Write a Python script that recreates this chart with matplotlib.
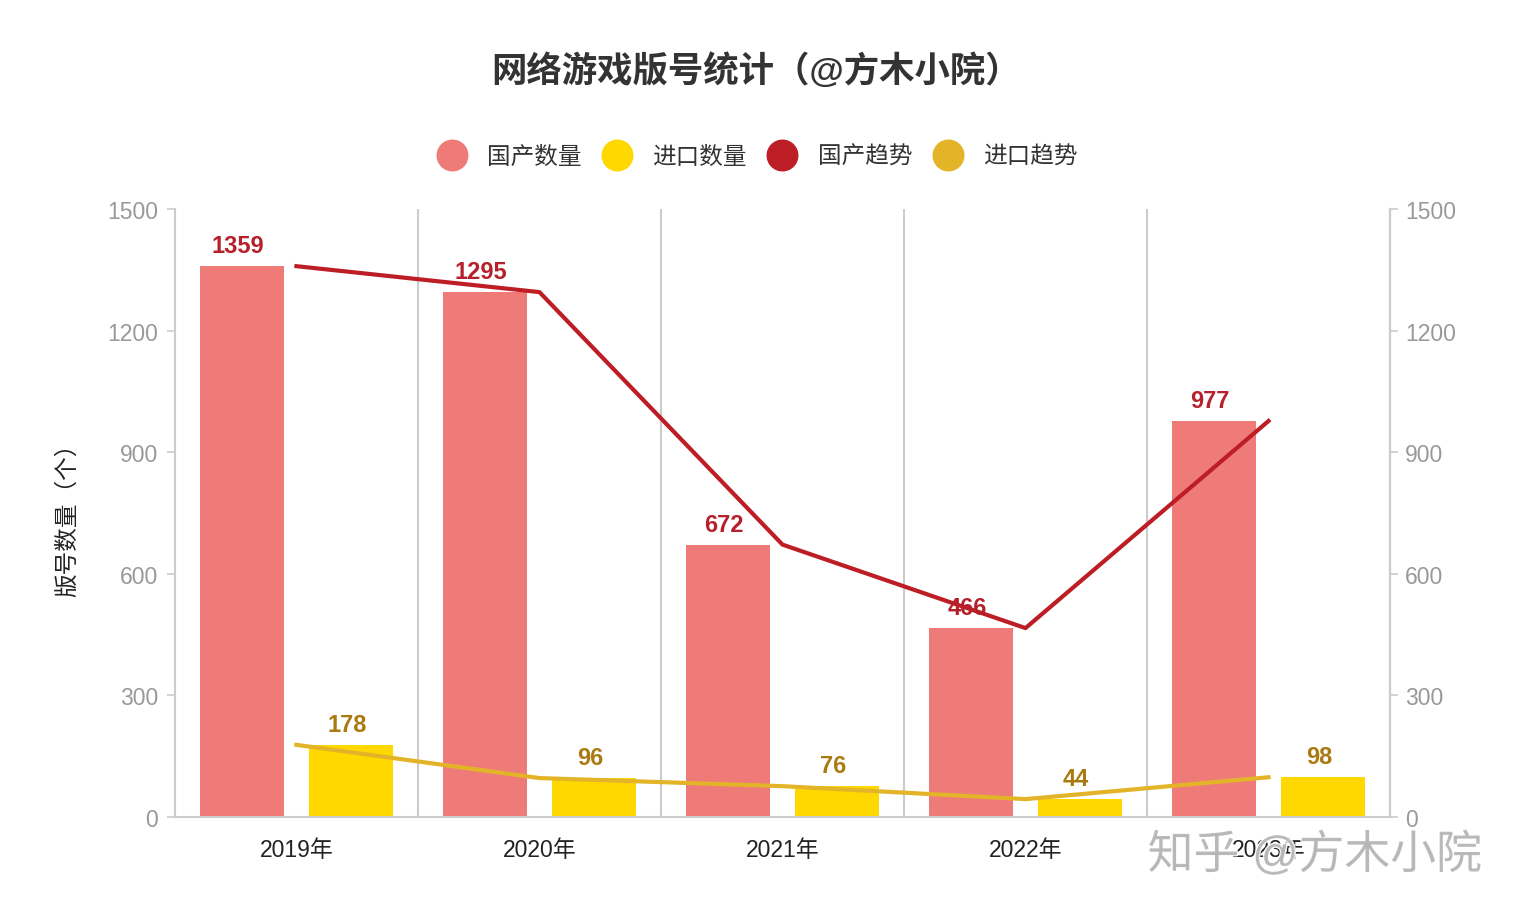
import matplotlib.pyplot as plt
import matplotlib.patheffects as pe
from matplotlib.lines import Line2D
import numpy as np

plt.rcParams['font.family'] = ['Liberation Sans', 'Noto Sans CJK SC', 'DejaVu Sans']

# DATA
years = ["2019年", "2020年", "2021年", "2022年", "2023年"]
domestic = [1359, 1295, 672, 466, 977]
imported = [178, 96, 76, 44, 98]
y_ticks = [0, 300, 600, 900, 1200, 1500]

# COLORS
c_dom_bar = "#EF7B78"
c_imp_bar = "#FFD800"
c_dom_line = "#BD1E25"
c_imp_line = "#E3B427"
c_dom_text = "#B5202A"
c_imp_text = "#A87A10"
grid_c = "#CCCCCC"
tick_c = "#999999"

fig = plt.figure(figsize=(15.16, 9.12), dpi=100)
ax = fig.add_axes([0.1154, 0.1031, 0.8015, 0.6666])

x = np.arange(len(years))
w = 0.345
off = 0.224
lab_shift = 0.017  # labels sit a touch left of bar centres

ax.bar(x - off, domestic, width=w, color=c_dom_bar, zorder=2)
ax.bar(x + off, imported, width=w, color=c_imp_bar, zorder=2)
ax.plot(x, domestic, color=c_dom_line, lw=3, zorder=3)
ax.plot(x, imported, color=c_imp_line, lw=3, zorder=3)

# bar value labels
for xi, v in zip(x, domestic):
    ax.text(xi - off - lab_shift, v + 22, str(v), ha="center", va="bottom",
            fontsize=17, fontweight="bold", color=c_dom_text, zorder=4)
for xi, v in zip(x, imported):
    ax.text(xi + off - lab_shift, v + 22, str(v), ha="center", va="bottom",
            fontsize=17, fontweight="bold", color=c_imp_text, zorder=4)

ax.set_xlim(-0.5, len(years) - 0.5)
ax.set_ylim(0, 1500)

# category separators
for b in np.arange(0.5, len(years) - 0.5, 1):
    ax.axvline(b, color=grid_c, lw=1.5, zorder=1)

ax.set_xticks(x)
ax.set_xticklabels(years, fontsize=16.5, color="#222222")
ax.tick_params(axis="x", length=0, pad=15)

ax.set_yticks(y_ticks)
ax.set_yticklabels([str(t) for t in y_ticks], fontsize=16.5, color=tick_c)
ax.tick_params(axis="y", length=6, width=1.2, color=grid_c, pad=6)

ax.spines["top"].set_visible(False)
for s in ["left", "right", "bottom"]:
    ax.spines[s].set_color(grid_c)
    ax.spines[s].set_linewidth(1.5)

ax.set_ylabel("版号数量（个）", fontsize=17, color="#222222", labelpad=20)

ax2 = ax.twinx()
ax2.set_ylim(0, 1500)
ax2.set_yticks(y_ticks)
ax2.set_yticklabels([str(t) for t in y_ticks], fontsize=16.5, color=tick_c)
ax2.tick_params(axis="y", length=6, width=1.2, color=grid_c, pad=5)
for s in ["top", "left", "bottom"]:
    ax2.spines[s].set_visible(False)
ax2.spines["right"].set_color(grid_c)
ax2.spines["right"].set_linewidth(1.5)

# title
fig.text(0.4987, 0.922, "网络游戏版号统计（@方木小院）", ha="center", va="center",
         fontsize=25.5, fontweight="bold", color="#333333")

# legend
handles = [
    Line2D([], [], marker="o", ls="", markersize=22, color=c_dom_bar),
    Line2D([], [], marker="o", ls="", markersize=22, color=c_imp_bar),
    Line2D([], [], marker="o", ls="", markersize=22, color=c_dom_line),
    Line2D([], [], marker="o", ls="", markersize=22, color=c_imp_line),
]
labels = ["国产数量", "进口数量", "国产趋势", "进口趋势"]
fig.legend(handles, labels, loc="center", bbox_to_anchor=(0.4965, 0.827), ncol=4,
           frameon=False, fontsize=17, handletextpad=0.5, columnspacing=0.5,
           labelcolor="#333333")

# watermark
fig.text(0.8674, 0.061, "知乎 @方木小院", ha="center", va="center", fontsize=33,
         color="#B4B4B4", alpha=0.9,
         path_effects=[pe.withStroke(linewidth=2, foreground="white")])

plt.savefig("out.png", dpi=100)
plt.close()
